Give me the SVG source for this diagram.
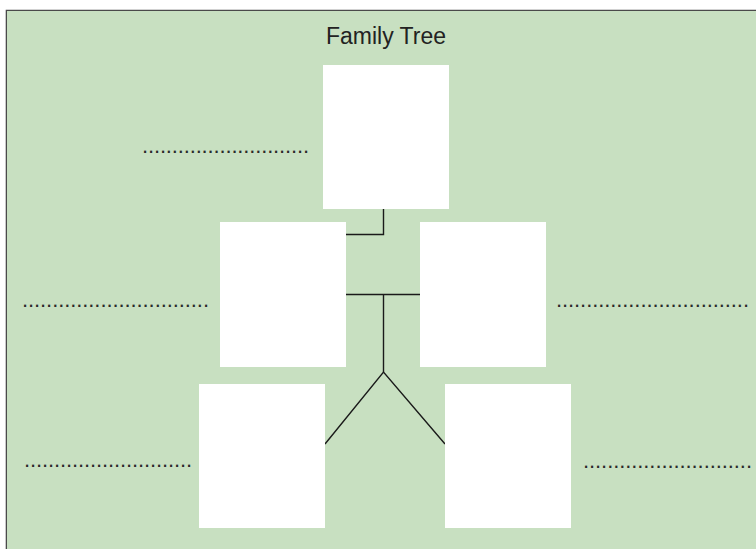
<svg xmlns="http://www.w3.org/2000/svg" width="756" height="549" viewBox="0 0 756 549">
<style>
.box{fill:#ffffff;stroke:none}
.conn{fill:none;stroke:#1a1a1a;stroke-width:1.4}
.dots{font-family:"Liberation Sans",Arial,sans-serif;font-size:22px;fill:#2a2a2a}
.title{font-family:"Liberation Sans",Arial,sans-serif;font-size:23px;fill:#222222}
</style>
<rect x="0" y="0" width="756" height="549" fill="#ffffff"/>
<path d="M6.5,549 V10.5 H756" fill="#c8e0c1" stroke="#4a4a4a" stroke-width="1.6"/>
<rect x="7" y="11" width="749" height="538" fill="#c8e0c1"/>
<text class="title" x="386" y="44" text-anchor="middle">Family Tree</text>
<g id="connectors">
<polyline class="conn" points="383.5,209 383.5,234.5 346,234.5"/>
<line class="conn" x1="346" y1="294.5" x2="420" y2="294.5"/>
<line class="conn" x1="383.5" y1="294.5" x2="383.5" y2="372"/>
<polyline class="conn" points="325,444 383.5,372 445,444"/>
</g>
<g id="node-top"><rect class="box" x="323" y="65" width="126" height="144"/></g>
<g id="node-mid-left"><rect class="box" x="220" y="222" width="126" height="145"/></g>
<g id="node-mid-right"><rect class="box" x="420" y="222" width="126" height="145"/></g>
<g id="node-bottom-left"><rect class="box" x="199" y="384" width="126" height="144"/></g>
<g id="node-bottom-right"><rect class="box" x="445" y="384" width="126" height="144"/></g>
<g id="labels">
<text class="dots" x="142" y="153" textLength="167" lengthAdjust="spacing">............................</text>
<text class="dots" x="22" y="307" textLength="187" lengthAdjust="spacing">...............................</text>
<text class="dots" x="556" y="307" textLength="193" lengthAdjust="spacing">................................</text>
<text class="dots" x="24" y="467" textLength="168" lengthAdjust="spacing">............................</text>
<text class="dots" x="583" y="468" textLength="169" lengthAdjust="spacing">............................</text>
</g>
</svg>
